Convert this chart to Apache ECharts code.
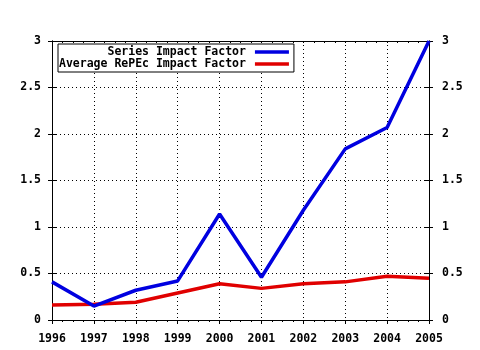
<!DOCTYPE html>
<html>
<head>
<meta charset="utf-8">
<script src="https://cdn.jsdelivr.net/npm/echarts@6/dist/echarts.min.js"></script>
<style>html,body{margin:0;padding:0;background:#fff;}#c{width:480px;height:350px;}</style>
</head>
<body>
<div id="c"></div>
<script>
var years = [1996, 1997, 1998, 1999, 2000, 2001, 2002, 2003, 2004, 2005];
var seriesImpact = [0.41, 0.15, 0.32, 0.42, 1.14, 0.46, 1.18, 1.84, 2.07, 3.0];
var averageImpact = [0.16, 0.17, 0.19, 0.29, 0.39, 0.34, 0.39, 0.41, 0.47, 0.45];
var yTicks = [0, 0.5, 1, 1.5, 2, 2.5, 3];
var seriesNames = ['Series Impact Factor', 'Average RePEc Impact Factor'];

var FONT = 'DejaVu Sans Mono';
var lbl = {color: '#000', fontFamily: FONT, fontWeight: 'bold', fontSize: 11.5};
function pairs(v) { return years.map(function (y, i) { return [y, v[i]]; }); }
var yMin = yTicks[0], yMax = yTicks[yTicks.length - 1], yStep = yTicks[1] - yTicks[0];
var gridLine = {color: '#000', type: [1, 3], width: 1};

function yAx(pos, showLabel, inside, split) {
  return {
    type: 'value', position: pos, min: yMin, max: yMax, interval: yStep,
    axisLine: {show: true, onZero: false, lineStyle: {color: '#000', width: 1}},
    axisTick: {show: true, inside: inside, length: 4, lineStyle: {color: '#000'}},
    axisLabel: Object.assign({show: showLabel, margin: pos === 'left' ? 11 : 13}, lbl),
    splitLine: {show: split, lineStyle: gridLine}
  };
}
function xAx(pos, showLabel, inside, split, len) {
  return {
    type: 'value', position: pos, min: years[0], max: years[years.length - 1], interval: 1,
    axisLine: {show: true, onZero: false, lineStyle: {color: '#000', width: 1}},
    axisTick: {show: true, inside: inside, length: len, lineStyle: {color: '#000'}},
    minorTick: {show: true, splitNumber: 4, length: 2, lineStyle: {color: '#000'}},
    axisLabel: Object.assign({show: showLabel, margin: 13, formatter: function (v) { return String(v); }}, lbl),
    splitLine: {show: split, lineStyle: gridLine}
  };
}

var chart = echarts.init(document.getElementById('c'), null, {renderer: 'canvas'});
chart.setOption({
  animation: false,
  backgroundColor: '#fff',
  grid: {left: 52, right: 51, top: 41, bottom: 30},
  legend: {
    left: 58, top: 44, orient: 'vertical', align: 'right',
    itemWidth: 34, itemHeight: 12, itemGap: 0,
    padding: [2, 5, 2, 1],
    backgroundColor: '#fff', borderColor: '#000', borderWidth: 1,
    icon: 'path://M0,0 L34,0 L34,3.5 L0,3.5 Z',
    textStyle: Object.assign({padding: [0, 4, 0, 0]}, lbl),
    data: seriesNames
  },
  xAxis: [
    xAx('bottom', true, false, true, 4),
    xAx('top', false, true, false, 2)
  ],
  yAxis: [
    yAx('left', true, false, true),
    yAx('right', true, false, false),
    yAx('left', false, true, false),
    yAx('right', false, true, false)
  ],
  series: [
    {name: seriesNames[0], type: 'line', data: pairs(seriesImpact), showSymbol: false, symbol: 'none',
     color: '#0000e0', lineStyle: {color: '#0000e0', width: 3.5}, z: 3},
    {name: seriesNames[1], type: 'line', data: pairs(averageImpact), showSymbol: false, symbol: 'none',
     color: '#e00000', lineStyle: {color: '#e00000', width: 3.5}, z: 2}
  ]
});
</script>
</body>
</html>
